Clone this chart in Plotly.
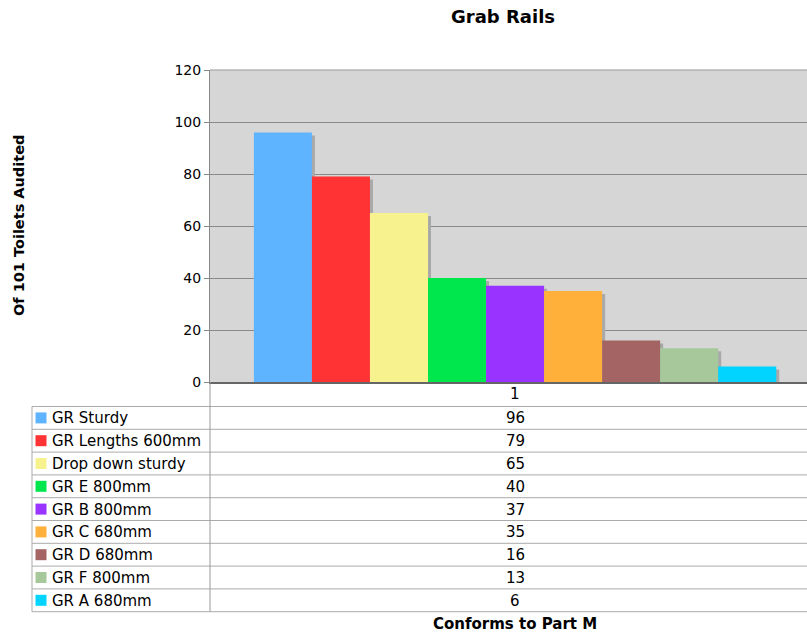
import plotly.graph_objects as go

categories = ["1"]
series_names = ["GR Sturdy", "GR Lengths 600mm", "Drop down sturdy", "GR E 800mm",
                "GR B 800mm", "GR C 680mm", "GR D 680mm", "GR F 800mm", "GR A 680mm"]
series_values = [96, 79, 65, 40, 37, 35, 16, 13, 6]
series_colors = ["#5fb4ff", "#ff3333", "#f8f28e", "#00e64d", "#9933ff",
                 "#ffb03b", "#a56464", "#a6c89a", "#00d4ff"]
y_ticks = [0, 20, 40, 60, 80, 100, 120]

W, H = 807, 633
L, R, T, B = 210, 0, 70, 251
PW = W - L - R
PH = H - T - B
YMAX = 120
XR = [-0.511, 0.489]
FONT = "Verdana, DejaVu Sans, sans-serif"

def px_x(px):
    return (px - L) / PW

def px_y(py):
    return (H - B - py) / PH

n = len(series_values)
bargap = 0.125
w = (1 - bargap) / n
sx = 3 * (XR[1] - XR[0]) / PW
sy = 3 * YMAX / PH

fig = go.Figure()
# shadows
for i, v in enumerate(series_values):
    fig.add_trace(go.Bar(x=categories, y=[v], base=[-sy], offset=-(1 - bargap) / 2 + i * w + sx,
                         width=w, marker=dict(color="#a9a9a9", line=dict(width=0)),
                         showlegend=False, hoverinfo="skip"))
for i, (name, v, c) in enumerate(zip(series_names, series_values, series_colors)):
    fig.add_trace(go.Bar(x=categories, y=[v], name=name, offset=-(1 - bargap) / 2 + i * w,
                         width=w, marker=dict(color=c, line=dict(width=0)), showlegend=False))

shapes = []
annotations = []
line_col = "#ababab"
rows_top = 406.5
row_h = 22.8
for k in range(n + 1):
    yy = px_y(rows_top + k * row_h)
    shapes.append(dict(type="line", xref="paper", yref="paper", x0=px_x(32), x1=px_x(W), y0=yy, y1=yy,
                       line=dict(color=line_col, width=1)))
shapes.append(dict(type="line", xref="paper", yref="paper", x0=px_x(32), x1=px_x(32),
                   y0=px_y(rows_top), y1=px_y(rows_top + n * row_h), line=dict(color=line_col, width=1)))
shapes.append(dict(type="line", xref="paper", yref="paper", x0=0, x1=0,
                   y0=0, y1=px_y(rows_top + n * row_h), line=dict(color="#999999", width=1)))

annotations.append(dict(text=categories[0], x=0, xref="x", y=px_y(394), yref="paper",
                        showarrow=False, font=dict(family=FONT, size=15, color="black"),
                        xanchor="center", yanchor="middle"))
for i, (name, v, c) in enumerate(zip(series_names, series_values, series_colors)):
    cy = rows_top + (i + 0.5) * row_h
    shapes.append(dict(type="rect", xref="paper", yref="paper", x0=px_x(35.5), x1=px_x(46.5),
                       y0=px_y(cy - 5.5), y1=px_y(cy + 5.5), fillcolor=c, line=dict(width=0)))
    annotations.append(dict(text=name, x=px_x(50), xref="paper", y=px_y(cy + 0.5), yref="paper",
                            showarrow=False, font=dict(family=FONT, size=15, color="black"),
                            xanchor="left", yanchor="middle"))
    annotations.append(dict(text=str(v), x=0, xref="x", y=px_y(cy + 0.5), yref="paper",
                            showarrow=False, font=dict(family=FONT, size=15, color="black"),
                            xanchor="center", yanchor="middle"))

annotations.append(dict(text="<b>Grab Rails</b>", x=px_x(503), xref="paper", y=px_y(17), yref="paper",
                        showarrow=False, font=dict(family=FONT, size=18, color="black"),
                        xanchor="center", yanchor="middle"))
annotations.append(dict(text="<b>Of 101 Toilets Audited</b>", x=px_x(19), xref="paper", y=px_y(226),
                        yref="paper", textangle=-90, showarrow=False,
                        font=dict(family=FONT, size=14.5, color="black"),
                        xanchor="center", yanchor="middle"))
annotations.append(dict(text="<b>Conforms to Part M</b>", x=px_x(515), xref="paper", y=px_y(624),
                        yref="paper", showarrow=False, font=dict(family=FONT, size=15, color="black"),
                        xanchor="center", yanchor="middle"))

fig.update_layout(
    width=W, height=H,
    margin=dict(l=L, r=R, t=T, b=B, pad=0),
    paper_bgcolor="white",
    plot_bgcolor="#d6d6d6",
    barmode="overlay",
    showlegend=False,
    shapes=shapes,
    annotations=annotations,
    xaxis=dict(type="category", range=XR, showticklabels=False, ticks="", showgrid=False,
               showline=True, linecolor="#666666", linewidth=1.5, mirror=False, zeroline=False,
               fixedrange=True),
    yaxis=dict(range=[0, YMAX], tickvals=y_ticks, ticks="outside", ticklen=5, tickcolor="#888888",
               showgrid=True, gridcolor="#8a8a8a", gridwidth=1, showline=True, linecolor="#888888",
               linewidth=1, zeroline=False, tickfont=dict(family=FONT, size=14, color="black"),
               fixedrange=True),
)
fig.add_shape(type="line", xref="paper", yref="paper", x0=0, x1=1, y0=1, y1=1,
              line=dict(color="#999999", width=1))

fig.write_html("out.html")
